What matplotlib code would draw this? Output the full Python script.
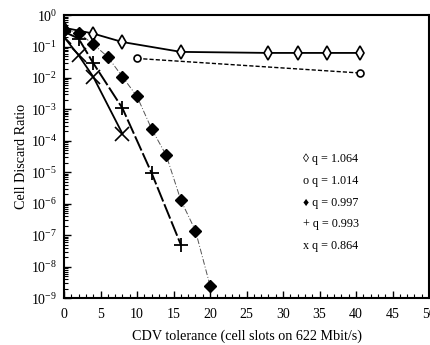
import matplotlib
matplotlib.use("Agg")
import matplotlib.pyplot as plt
from matplotlib.ticker import LogLocator, MultipleLocator, NullFormatter

plt.rcParams['font.family'] = ['Liberation Serif', 'DejaVu Serif']
plt.rcParams['mathtext.fontset'] = 'stix'

# Daten
x_1064 = [0, 4, 8, 16, 28, 32, 36, 40.5]
y_1064 = [0.4, 0.26, 0.14, 0.068, 0.063, 0.063, 0.063, 0.063]

x_1014 = [10, 40.5]
y_1014 = [0.042, 0.0145]

x_0997 = [0, 2, 4, 6, 8, 10, 12, 14, 16, 18, 20]
y_0997 = [0.35, 0.27, 0.12, 0.047, 0.011, 0.0026, 2.4e-4, 3.5e-5, 1.3e-6, 1.4e-7, 2.5e-9]

x_0993 = [0, 2, 4, 8, 12, 16]
y_0993 = [0.3, 0.18, 0.03, 1.1e-3, 9.5e-6, 5e-8]

x_0864 = [0, 2, 4, 8]
y_0864 = [0.2, 0.053, 0.011, 1.7e-4]

legend_labels = ['\u25ca q = 1.064', 'o q = 1.014', '\u2666 q = 0.997', '+ q = 0.993', 'x q = 0.864']

fig = plt.figure(figsize=(4.31, 3.45), dpi=100)
ax = fig.add_axes([0.1485, 0.136, 0.847, 0.820])

ax.plot(x_1064, y_1064, color='black', lw=1.3, ls='-', marker='d', ms=7,
        mfc='white', mec='black', mew=1.2)
ax.plot(x_1014, y_1014, color='black', lw=1.0, ls=(0, (3, 1.5)), marker='o', ms=5,
        mfc='white', mec='black', mew=1.2)
ax.plot(x_0997, y_0997, color='#555555', lw=0.7, ls=(0, (6, 2, 1, 2)), marker='D', ms=6,
        mfc='black', mec='black')
ax.plot(x_0993, y_0993, color='black', lw=1.4, ls=(0, (8, 1.5)), marker='+', ms=10,
        mec='black', mew=1.3)
ax.plot(x_0864, y_0864, color='black', lw=1.3, ls='-', marker='x', ms=10,
        mec='black', mew=1.2)

ax.set_yscale('log')
ax.set_xlim(0, 50)
ax.set_ylim(1e-9, 1)
ax.xaxis.set_major_locator(MultipleLocator(5))
ax.xaxis.set_minor_locator(MultipleLocator(1))
ax.yaxis.set_major_locator(LogLocator(base=10, numticks=12))
ax.yaxis.set_minor_locator(LogLocator(base=10, subs=range(2, 10), numticks=12))
ax.yaxis.set_minor_formatter(NullFormatter())
ax.tick_params(which='both', direction='in', labelsize=10, top=False, right=False)
ax.tick_params(axis='x', pad=7)
ax.tick_params(axis='y', pad=5)
ax.tick_params(which='major', length=5, width=1)
ax.tick_params(which='minor', length=3, width=0.8)
for s in ax.spines.values():
    s.set_linewidth(1.5)

ax.set_xlabel('CDV tolerance (cell slots on 622 Mbit/s)', fontsize=10.2, labelpad=6)
ax.set_ylabel('Cell Discard Ratio', fontsize=10.2, labelpad=2)

for i, lab in enumerate(legend_labels):
    ax.text(0.655, 0.49 - i * 0.0765, lab, transform=ax.transAxes, fontsize=8.7,
            va='center', ha='left')

fig.savefig('out.png', dpi=100)
